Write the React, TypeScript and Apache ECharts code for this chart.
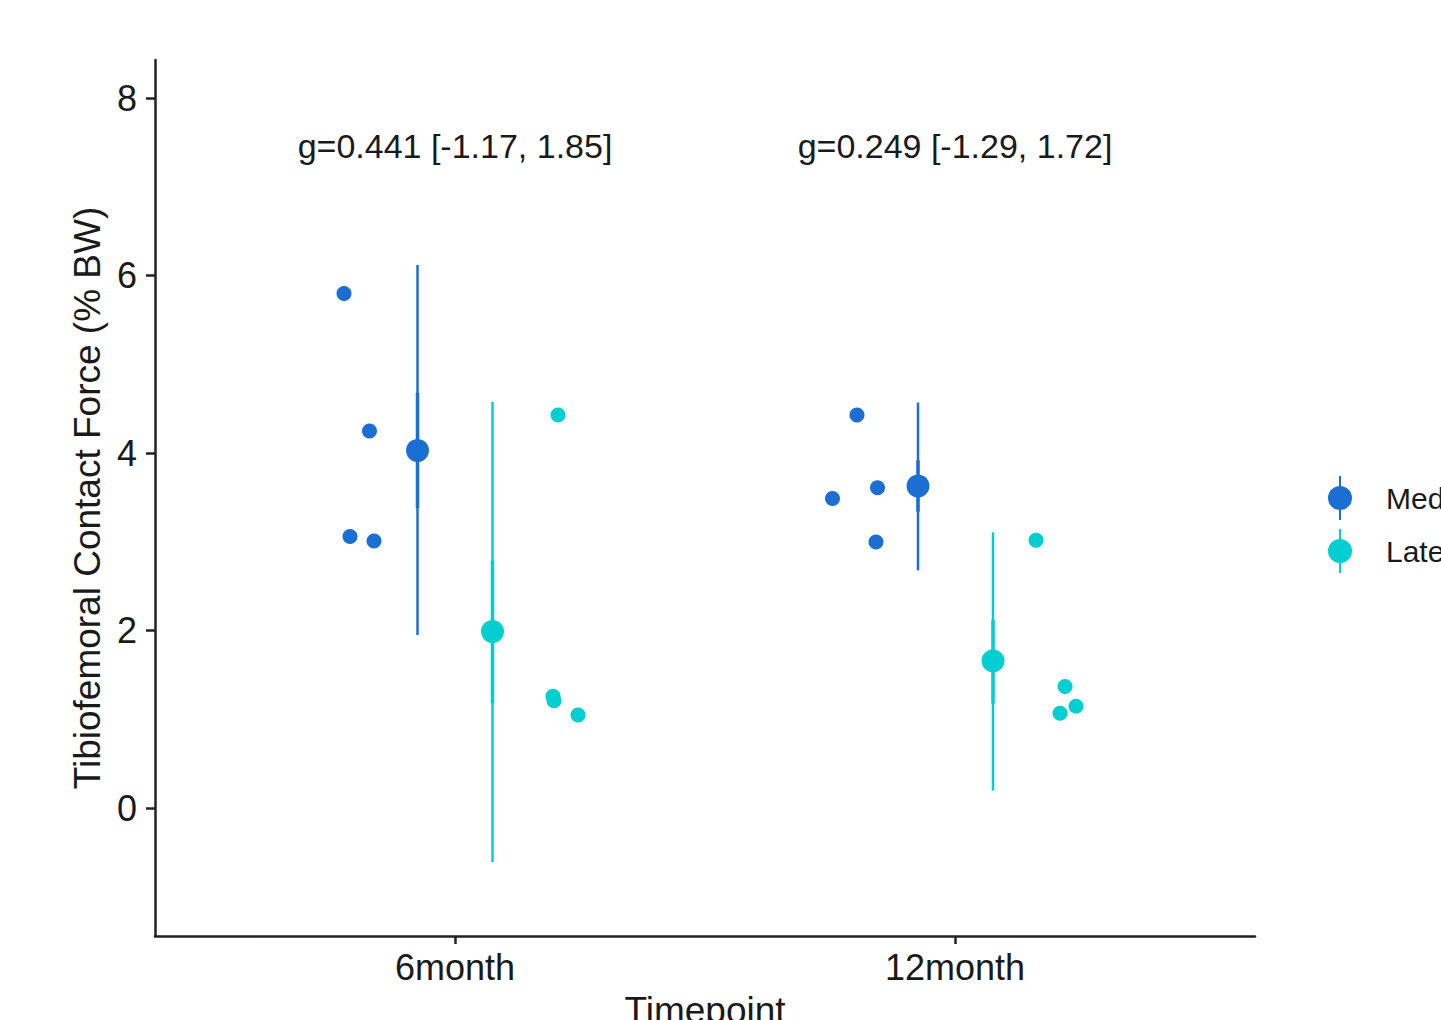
import React, { useEffect, useRef } from "react";
import * as echarts from "echarts";

// ---- data ----
const categories = ["6month", "12month"];
const categoryPositions = [1, 2];
const groups = ["Medial", "Lateral"];
const yTicks = [0, 2, 4, 6, 8];

// summary (mean, outer interval, inner interval) per timepoint, dodged x
const medialX = [0.925, 1.926];
const medialMean = [4.03, 3.63];
const medialLo = [1.95, 2.68];
const medialHi = [6.12, 4.57];
const medialInnerLo = [3.38, 3.34];
const medialInnerHi = [4.68, 3.92];

const lateralX = [1.075, 2.076];
const lateralMean = [1.99, 1.66];
const lateralLo = [-0.61, 0.2];
const lateralHi = [4.58, 3.11];
const lateralInnerLo = [1.18, 1.18];
const lateralInnerHi = [2.79, 2.12];

// individual (jittered) observations [x, y]
const medialPointsX = [0.778, 0.829, 0.79, 0.838, 1.804, 1.755, 1.845, 1.842];
const medialPointsY = [5.8, 4.25, 3.06, 3.01, 4.43, 3.49, 3.61, 3.0];
const lateralPointsX = [1.206, 1.196, 1.198, 1.246, 2.162, 2.22, 2.21, 2.242];
const lateralPointsY = [4.43, 1.26, 1.21, 1.05, 3.02, 1.37, 1.07, 1.15];

// effect-size annotations
const annotationX = [1, 2];
const annotationY = [7.46, 7.46];
const annotationText = ["g=0.441 [-1.17, 1.85]", "g=0.249 [-1.29, 1.72]"];

const MEDIAL_COLOR = "#1C6FD2";
const LATERAL_COLOR = "#00CED1";
const FONT = "'Liberation Sans', Arial, Helvetica, sans-serif";
const TEXT_COLOR = "#1a1a1a";

const legendIcon =
  "path://M11,0 H13 V44 H11 Z M0,22 A12,12 0 1,1 24,22 A12,12 0 1,1 0,22 Z";

function barSeries(name: string, color: string, xs: number[], lo: number[], hi: number[], width: number) {
  return {
    type: "custom",
    name,
    data: xs.map((x, i) => [x, lo[i], hi[i]]),
    renderItem: (params: any, api: any) => {
      const p1 = api.coord([api.value(0), api.value(1)]);
      const p2 = api.coord([api.value(0), api.value(2)]);
      return {
        type: "line",
        shape: { x1: p1[0], y1: p1[1], x2: p2[0], y2: p2[1] },
        style: { stroke: color, lineWidth: width },
      };
    },
    z: 2,
    silent: true,
  };
}

export default function App() {
  const ref = useRef<HTMLDivElement>(null);

  useEffect(() => {
    document.body.style.margin = "0";
    if (!ref.current) return;
    const chart = echarts.init(ref.current, null, { renderer: "svg" });
    const option: any = {
      animation: false,
      backgroundColor: "#ffffff",
      grid: { left: 155, right: 186, top: 60, bottom: 84, containLabel: false, outerBoundsMode: "none" },
      legend: {
        orient: "vertical",
        left: 1323,
        top: 471,
        itemWidth: 24,
        itemHeight: 44,
        itemGap: 9,
        icon: legendIcon,
        textStyle: { fontFamily: FONT, fontSize: 30, color: TEXT_COLOR, padding: [0, 0, 0, 29] },
        data: [
          { name: groups[0], itemStyle: { color: MEDIAL_COLOR } },
          { name: groups[1], itemStyle: { color: LATERAL_COLOR } },
        ],
      },
      xAxis: {
        type: "value",
        min: 0.4,
        max: 2.6,
        name: "Timepoint",
        nameLocation: "middle",
        nameGap: 56,
        nameTextStyle: { fontFamily: FONT, fontSize: 37, color: TEXT_COLOR },
        axisLine: { show: true, onZero: false, lineStyle: { color: "#222", width: 2.5 } },
        axisTick: { show: true, length: 8, customValues: categoryPositions, lineStyle: { color: "#222", width: 2.5 } },
        axisLabel: {
          customValues: categoryPositions,
          margin: 13,
          fontFamily: FONT,
          fontSize: 36,
          color: TEXT_COLOR,
          formatter: (v: number) => {
            const i = categoryPositions.indexOf(Math.round(v));
            return i >= 0 ? categories[i] : "";
          },
        },
        splitLine: { show: false },
      },
      yAxis: {
        type: "value",
        min: -1.44,
        max: 8.43,
        name: "Tibiofemoral Contact Force (% BW)",
        nameLocation: "middle",
        nameGap: 49,
        nameTextStyle: { fontFamily: FONT, fontSize: 37, color: TEXT_COLOR },
        axisLine: { show: true, onZero: false, lineStyle: { color: "#222", width: 2.5 } },
        axisTick: { show: true, length: 9, customValues: yTicks, lineStyle: { color: "#222", width: 2.5 } },
        axisLabel: {
          customValues: yTicks,
          margin: 18,
          fontFamily: FONT,
          fontSize: 36,
          color: TEXT_COLOR,
        },
        splitLine: { show: false },
      },
      series: [
        barSeries(groups[0], MEDIAL_COLOR, medialX, medialLo, medialHi, 2.5),
        barSeries(groups[0], MEDIAL_COLOR, medialX, medialInnerLo, medialInnerHi, 3.5),
        barSeries(groups[1], LATERAL_COLOR, lateralX, lateralLo, lateralHi, 2.5),
        barSeries(groups[1], LATERAL_COLOR, lateralX, lateralInnerLo, lateralInnerHi, 3.5),
        {
          type: "scatter",
          name: groups[0],
          data: medialPointsX.map((x, i) => [x, medialPointsY[i]]),
          symbol: "circle",
          symbolSize: 15,
          itemStyle: { color: MEDIAL_COLOR, opacity: 1 },
          z: 3,
        },
        {
          type: "scatter",
          name: groups[1],
          data: lateralPointsX.map((x, i) => [x, lateralPointsY[i]]),
          symbol: "circle",
          symbolSize: 15,
          itemStyle: { color: LATERAL_COLOR, opacity: 1 },
          z: 3,
        },
        {
          type: "scatter",
          name: groups[0],
          data: medialX.map((x, i) => [x, medialMean[i]]),
          symbol: "circle",
          symbolSize: 23,
          itemStyle: { color: MEDIAL_COLOR, opacity: 1 },
          z: 4,
        },
        {
          type: "scatter",
          name: groups[1],
          data: lateralX.map((x, i) => [x, lateralMean[i]]),
          symbol: "circle",
          symbolSize: 23,
          itemStyle: { color: LATERAL_COLOR, opacity: 1 },
          z: 4,
        },
        {
          type: "scatter",
          name: "annotations",
          data: annotationX.map((x, i) => ({ value: [x, annotationY[i]], label: { formatter: annotationText[i] } })),
          symbolSize: 0,
          silent: true,
          itemStyle: { opacity: 1, color: TEXT_COLOR },
          label: {
            show: true,
            position: "inside",
            fontFamily: FONT,
            fontSize: 34,
            color: TEXT_COLOR,
            textBorderWidth: 0,
          },
          z: 5,
        },
      ],
    };
    chart.setOption(option);
    return () => chart.dispose();
  }, []);

  return <div ref={ref} style={{ width: 1441, height: 1020 }} />;
}
